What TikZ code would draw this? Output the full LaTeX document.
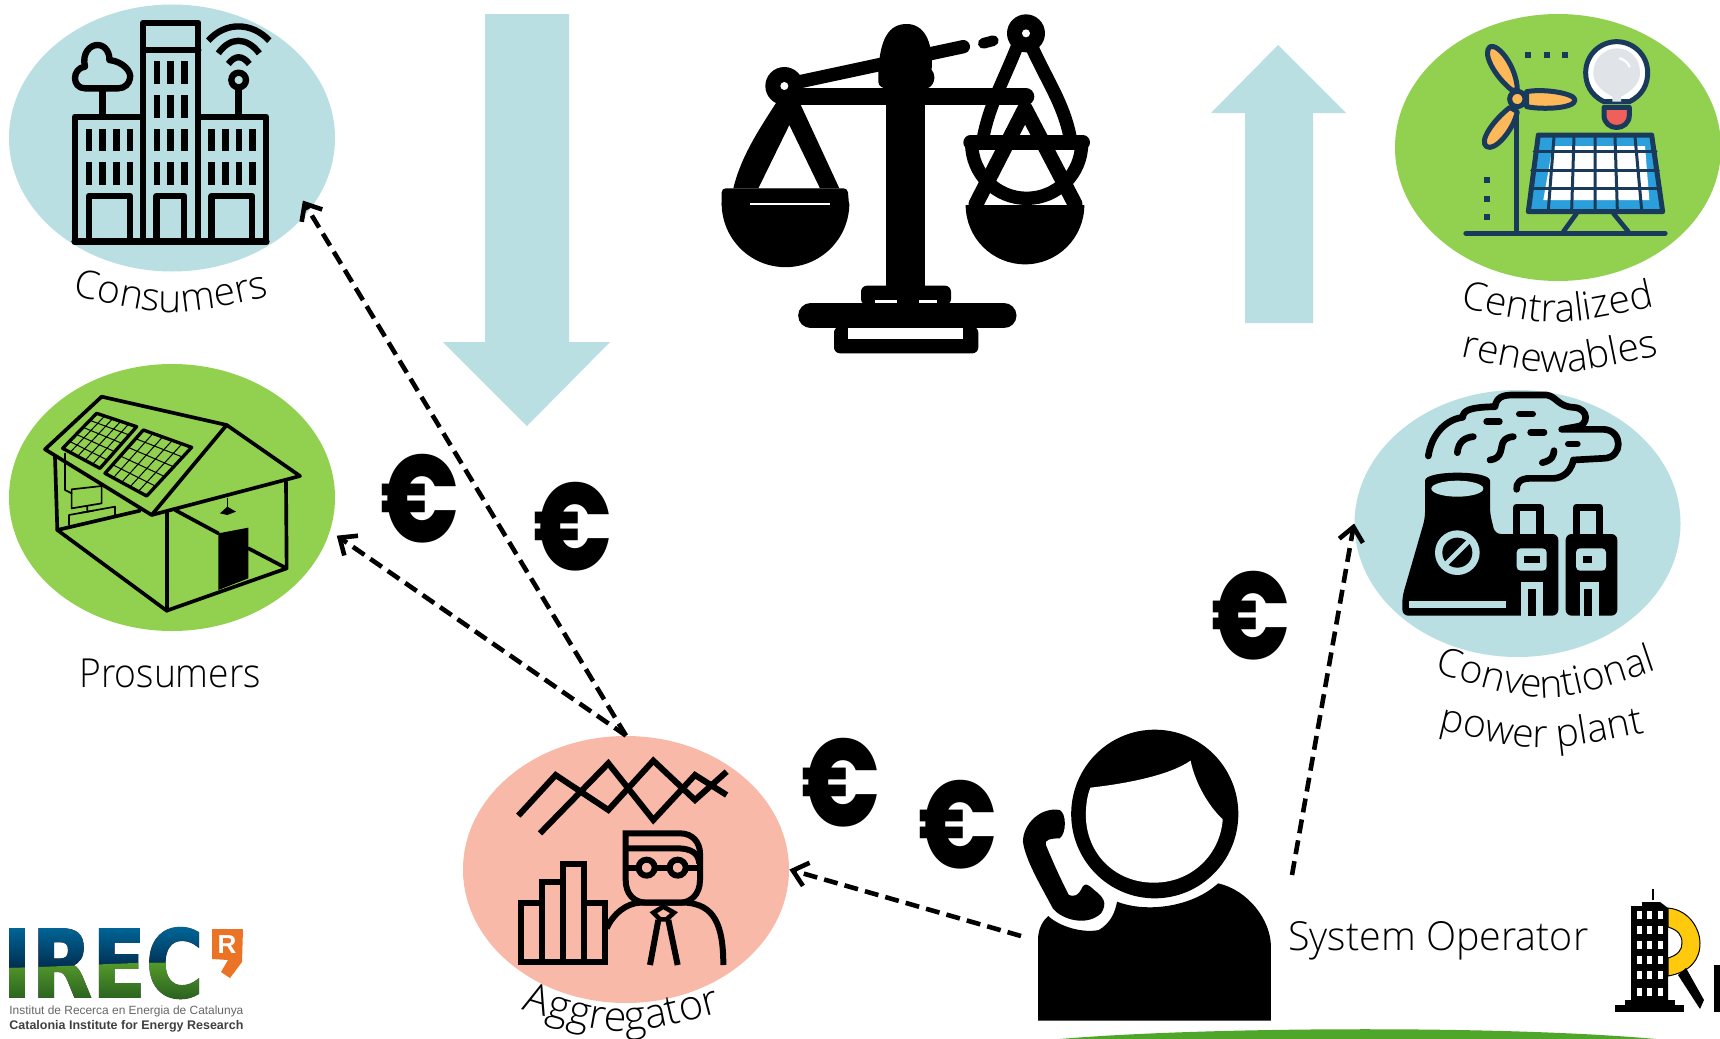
\documentclass[tikz,border=0pt]{standalone}
\usepackage{fontspec}
\usetikzlibrary{arrows.meta,shapes.geometric,decorations.text,calc}
\newfontfamily\lt{Open Sans Light}
\newfontfamily\eur{Poppins ExtraBold}
\newfontfamily\irecf[BoldFeatures={FakeBold=1.5}]{DejaVu Sans}
\newfontfamily\lsans{Liberation Sans}
\def\lbl{\lt\fontsize{20}{24}\selectfont}
\def\lblb{\lt\fontsize{19.5}{24}\selectfont}
\def\lblc{\lt\fontsize{20.7}{24}\selectfont}
\definecolor{lblue}{HTML}{B9DFE3}
\definecolor{lgreen}{HTML}{92D050}
\definecolor{lsalmon}{HTML}{F8B9A8}
\definecolor{navy}{HTML}{1A3A5C}
\definecolor{orangeb}{HTML}{FDB85A}
\definecolor{sky}{HTML}{2B9FDC}
\definecolor{bulbg}{HTML}{E0E3E8}
\definecolor{bulbr}{HTML}{F0605A}
\definecolor{ireco}{HTML}{EB7325}
\definecolor{barg}{HTML}{4EA72A}
\definecolor{yel}{HTML}{FFC90E}
\newcommand{\euro}{\scalebox{0.8}[1]{€}}
\tikzset{
 zm/.style 2 args={shift={(#1,#2)},scale=0.33333},
 lz/.style={line width=#1*0.16667pt},
 bubble/.style={ellipse,inner sep=0pt,minimum width=163pt,minimum height=133.5pt,fill=#1},
 money/.style={font=\eur\fontsize{62}{66}\selectfont,inner sep=0pt},
 link/.style={line width=2.3pt,dash pattern=on 7pt off 3.6pt,-{Straight Barb[length=7pt,width=12pt,line width=2.3pt]}},
 ico/.style={line join=round,line cap=round},
 curved/.style={decorate,decoration={text along path,text align=center,text={|\lblb|#1}}},
 curvedbig/.style={decorate,decoration={text along path,text align=center,text={|\lblc|#1}}}
}
\begin{document}
\begin{tikzpicture}[x=0.5pt,y=-0.5pt]
\useasboundingbox (0,0) rectangle (1720,1039);
\fill[white] (0,0) rectangle (1720,1039);
% bubbles
\node[bubble=lblue] (consumers) at (172,138) {};
\node[bubble=lgreen] (prosumers) at (172,497.5) {};
\node[bubble=lgreen] (renew) at (1558,147.5) {};
\node[bubble=lblue] (conv) at (1517.5,523.5) {};
\node[bubble=lsalmon] (aggr) at (626,869.5) {};
% flow arrows
\fill[lblue] (485,14)--(569,14)--(569,342)--(610,342)--(527,426)--(443,342)--(485,342)--cycle;
\fill[lblue] (1278,45)--(1346,113)--(1313,113)--(1313,323)--(1245,323)--(1245,113)--(1211,113)--cycle;
% consumers icon
\begin{scope}[zm={0}{0},ico,lz=19]
 \draw (430,68) rectangle (595,725);
 \draw (430,150)--(595,150);
 \draw (225,350) rectangle (430,725);
 \draw (595,350) rectangle (798,725);
 \draw[lz=22] (225,725)--(798,725);
 \foreach \yy in {183,285,386,487} \foreach \xx in {461,502,543} \fill (\xx,\yy) rectangle +(20,68);
 \foreach \yy in {386,487} \foreach \xx in {257,298,339,380,625,666,707,747} \fill (\xx,\yy) rectangle +(20,68);
 \draw (267,725)--(267,588)--(390,588)--(390,725);
 \draw (470,725)--(470,588)--(553,588)--(553,725);
 \draw (635,725)--(635,588)--(757,588)--(757,725);
 \draw (308,265)--(308,345);
 \draw (255,265) .. controls (215,265) and (215,205) .. (255,200) .. controls (245,160) and (270,135) .. (292,135) .. controls (320,135) and (330,165) .. (328,180) .. controls (370,185) and (395,215) .. (390,235) .. controls (388,250) and (375,265) .. (355,265) -- cycle;
 \draw (716,240) circle (22);
 \draw (716,265)--(716,345);
 \draw[line cap=butt] (625,122) .. controls (675,65) and (755,65) .. (808,122);
 \draw[line cap=butt] (655,160) .. controls (690,110) and (740,110) .. (778,160);
 \draw[line cap=butt] (685,192) .. controls (705,165) and (727,165) .. (748,192);
\end{scope}
% prosumers icon
\begin{scope}[zm={0}{360},ico,lz=11]
 \draw (135,268)--(305,110)--(680,195)--(455,465)--cycle;
 \draw (680,195)--(900,348)--(455,465);
 \draw (165,290)--(172,510)--(500,752)--(860,625)--(858,365);
 \draw (172,510)--(420,452);
 \draw (502,460)--(502,752);
 \draw (525,450)--(655,520);
 \fill (655,520)--(745,503)--(745,655)--(655,690)--cycle;
 \draw (745,565)--(860,625);
 \draw[lz=10] (290,160)--(410,200)--(300,325)--(188,265)--cycle;
 \draw[lz=10] (430,210)--(575,262)--(440,408)--(315,340)--cycle;
 \foreach \t in {0.2,0.4,0.6,0.8} {
  \draw[lz=3] ($(290,160)!\t!(410,200)$) -- ($(188,265)!\t!(300,325)$);
  \draw[lz=3] ($(290,160)!\t!(188,265)$) -- ($(410,200)!\t!(300,325)$);
  \draw[lz=3] ($(430,210)!\t!(575,262)$) -- ($(315,340)!\t!(440,408)$);
  \draw[lz=3] ($(430,210)!\t!(315,340)$) -- ($(575,262)!\t!(440,408)$);
 }
 \draw[lz=5] (195,280)--(195,390)--(215,400);
 \draw[lz=5] (215,388)--(305,378)--(305,430)--(215,445)--cycle;
 \draw[lz=5] (262,438)--(262,450) (245,458)--(280,452);
 \draw[lz=5] (207,495)--(207,465)--(345,440)--(345,468);
 \draw[lz=3] (682,415)--(682,445);
 \fill (660,460)--(682,440)--(708,455)--(682,465)--cycle;
\end{scope}
% scale
\begin{scope}[zm={700}{0},ico]
 \draw[lz=45] (975,325)--(828,612) (975,325)--(1125,612);
 \fill (797,615) arc[start angle=180,end angle=0,radius=178] -- cycle;
 \fill[white] (855,608) rectangle (1095,615);
 \fill[even odd rule] (240,290)--(300,310)--(418,565)--(100,565) .. controls (125,460) and (190,370) .. (240,290) -- cycle (268,375)--(175,565)--(360,565)--cycle;
 \fill[rounded corners=2pt] (65,625)--(65,565)--(443,565)--(448,625)--cycle;
 \fill (65,610) arc[start angle=180,end angle=0,radius=191.5] -- cycle;
 \draw[white,lz=8,line cap=butt] (150,612)--(390,612);
 \draw[lz=50] (260,290)--(978,290);
 \fill (558,250) rectangle (676,900);
 \draw[lz=40] (300,245)--(790,140);
 \draw[lz=32] (850,130)--(880,122);
 \fill (535,240) .. controls (535,110) and (570,72) .. (620,72) .. controls (670,72) and (700,120) .. (695,210) .. controls (712,230) and (700,262) .. (680,265) -- (555,265) .. controls (535,260) and (535,250) .. (535,240) -- cycle;
 \fill (253,258) circle (57);
 \fill[white] (253,258) circle (12);
 \draw[lz=38,line cap=butt] (955,130) .. controls (908,250) and (870,310) .. (850,410);
 \draw[lz=40,line cap=butt] (995,140) .. controls (1040,240) and (1090,310) .. (1110,410);
 \fill (978,100) circle (57);
 \fill[white] (978,100) circle (12);
 \draw[lz=44] (812,427)--(1148,427);
 \draw[lz=40,line cap=butt] (815,430) arc[start angle=180,end angle=0,radius=165];
 \fill[rounded corners=3pt] (483,915)--(483,857)--(753,857)--(753,915)--cycle;
 \draw[lz=75] (332,947)--(912,947);
 \fill[white] (525,900) rectangle (590,908);
 \fill[white] (657,900) rectangle (712,908);
 \fill[rounded corners=3pt] (402,980)--(835,980)--(835,1060)--(402,1060)--cycle;
 \fill[white] (443,985) rectangle (790,1018);
\end{scope}
% centralized renewables icon
\begin{scope}[zm={1380}{0},ico,draw=navy,lz=15]
 \draw[lz=16] (258,700)--(855,700);
 \draw (410,340)--(410,700);
 \draw[fill=orangeb] (395,270) .. controls (345,230) and (305,160) .. (330,140) .. controls (355,130) and (410,200) .. (412,270) -- cycle;
 \draw[fill=orangeb] (440,275) .. controls (490,265) and (585,280) .. (585,300) .. controls (585,325) and (490,330) .. (440,320) -- cycle;
 \draw[fill=orangeb] (390,322) .. controls (340,360) and (295,425) .. (320,440) .. controls (345,455) and (400,390) .. (412,335) -- cycle;
 \draw[fill=orangeb] (412,297) circle (23);
 \foreach \xx in {443,500,556} \fill[navy] (\xx-9,156) rectangle +(18,18);
 \foreach \yy in {540,596,652} \fill[navy] (311,\yy-9) rectangle +(18,18);
 % lamp
 \draw[fill=white] (672,305) .. controls (630,285) and (617,250) .. (617,218) .. controls (617,165) and (660,125) .. (710,125) .. controls (760,125) and (803,165) .. (803,218) .. controls (803,250) and (790,285) .. (748,305) -- cycle;
 \fill[bulbg] (697,305) -- (697,290) .. controls (650,265) and (640,240) .. (640,218) .. controls (640,175) and (675,145) .. (710,145) .. controls (750,145) and (780,175) .. (780,218) .. controls (780,240) and (770,265) .. (723,290) -- (723,305) -- cycle;
 \draw[lz=7,white] (720,175) .. controls (735,180) and (745,190) .. (748,200);
 \draw[fill=bulbr] (672,322)--(748,322)--(748,345) .. controls (748,395) and (672,395) .. (672,345) -- cycle;
 \draw[fill=sky] (475,405)--(815,405)--(848,635)--(445,635)--cycle;
 \fill[white] (518,438)--(795,438)--(808,600)--(490,600)--cycle;
 \draw[lz=9] (462,453)--(828,453) (455,510)--(835,510) (450,565)--(842,565);
 \draw[lz=9] (522,410)--(505,630) (582,410)--(575,630) (645,410)--(645,630) (705,410)--(712,630) (765,410)--(785,630);
 \draw[lz=14] (590,640)--(550,695) (700,640)--(745,695);
\end{scope}
% conventional plant icon
\begin{scope}[zm={1340}{380},ico]
 \fill[rounded corners=3pt] (255,320) -- (255,415) -- (187,650) -- (187,707) -- (655,707) -- (655,462) -- (465,462) -- (450,400) -- (450,320) .. controls (450,270) and (255,270) .. (255,320) -- cycle;
 \fill[rounded corners=3pt] (677,462) rectangle (832,707);
 \fill[lblue] (352,326) ellipse [x radius=78,y radius=24];
 \fill[lblue] (352,518) circle (67);
 \fill (352,518) circle (45);
 \draw[lblue,lz=14,line cap=butt] (315,555)--(390,480);
 \fill[lblue] (207,663) rectangle (497,685);
 \draw[lz=22,line cap=butt] (530,470)--(530,382)--(600,382)--(600,470);
 \draw[lz=22,line cap=butt] (710,470)--(710,382)--(778,382)--(778,470);
 \fill[lblue,rounded corners=2pt] (530,505) rectangle (620,572);
 \fill (553,527) rectangle (600,550);
 \fill[lblue,rounded corners=2pt] (708,505) rectangle (798,572);
 \fill (730,527) rectangle (755,550);
 \fill[lblue] (543,707)--(543,607)--(610,607)--(610,707)--cycle;
 \fill (565,628) rectangle (588,707);
 \fill[lblue] (720,707)--(720,607)--(778,607)--(778,707)--cycle;
 \fill (733,628) rectangle (755,707);
 \draw[lz=20] (265,228) .. controls (275,160) and (320,118) .. (368,112) .. controls (370,90) and (390,82) .. (465,80) .. controls (470,50) and (490,45) .. (520,45) -- (620,45) .. controls (650,50) and (655,80) .. (700,82) .. controls (750,85) and (745,138) .. (710,140) -- (665,148) -- (790,148) .. controls (850,150) and (850,235) .. (790,235) -- (700,240) .. controls (690,290) and (650,295) .. (640,295) -- (570,295) .. controls (540,295) and (528,310) .. (530,328);
 \draw[lz=20] (440,125)--(478,125) (538,102)--(578,102) (572,157)--(612,157) (685,192)--(712,192);
 \draw[lz=20] (352,218) .. controls (355,185) and (375,172) .. (400,170);
 \draw[lz=20] (450,240) .. controls (490,235) and (480,200) .. (490,185) .. controls (495,175) and (510,170) .. (520,170);
 \draw[lz=20] (607,248) .. controls (640,240) and (640,225) .. (642,212);
\end{scope}
% aggregator icon
\begin{scope}[zm={450}{720},lz=18,line join=miter]
 \draw (205,287)--(317,165)--(475,270)--(610,122)--(735,240)--(830,155);
 \draw (270,340)--(475,130)--(610,300)--(735,165)--(830,225);
 \draw (213,725)--(213,548)--(277,548)--(277,487)--(340,487)--(340,433)--(403,433)--(403,548)--(465,548)--(465,725)--cycle;
 \draw (277,548)--(277,725) (340,487)--(340,725) (403,548)--(403,725);
 \draw (527,340)--(690,340) .. controls (730,340) and (750,370) .. (750,400) -- (750,480) .. controls (750,525) and (720,548) .. (690,548) -- (590,548) .. controls (550,548) and (527,520) .. (527,480) -- cycle;
 \draw (527,385)--(680,385) .. controls (725,385) and (745,400) .. (748,430);
 \draw (590,443) circle (24) (683,443) circle (24);
 \draw (530,443)--(566,443) (614,443)--(659,443) (707,443)--(750,443);
 \draw (470,625) .. controls (490,580) and (530,550) .. (570,548) -- (710,548) .. controls (790,555) and (820,610) .. (820,735);
 \draw[lz=14] (610,578)--(640,560)--(672,578)--(650,598)--(630,598)--cycle;
 \draw (625,600)--(600,735) (655,600)--(683,735);
\end{scope}
% operator
\begin{scope}[shift={(1000,720)},xscale=0.4592,yscale=0.33333]
 \fill (83,902) -- (83,650) .. controls (85,620) and (95,600) .. (105,588) .. controls (130,620) and (180,640) .. (215,630) .. controls (240,610) and (250,580) .. (255,545) .. controls (320,580) and (420,560) .. (475,490) .. controls (540,510) and (590,600) .. (590,680) -- (590,902) -- cycle;
 \fill (337,282) ellipse [x radius=182,y radius=253];
 \fill[white] (197,203) .. controls (280,190) and (370,165) .. (415,122) .. controls (425,190) and (455,260) .. (485,298) .. controls (480,400) and (420,488) .. (335,488) .. controls (250,488) and (187,400) .. (187,285) .. controls (187,255) and (190,225) .. (197,203) -- cycle;
 \fill (130,270) .. controls (90,260) and (50,310) .. (50,365) .. controls (55,420) and (90,500) .. (115,565) .. controls (135,600) and (190,620) .. (220,580) .. controls (235,550) and (225,530) .. (205,510) .. controls (190,490) and (185,490) .. (180,500) .. controls (170,530) and (160,530) .. (150,525) .. controls (125,460) and (100,375) .. (100,375) .. controls (95,360) and (110,355) .. (130,355) .. controls (145,340) and (145,280) .. (130,270) -- cycle;
\end{scope}
% R logo
\fill (1652,889) rectangle (1653.5,900);
\fill (1631,1002)--(1631,906)--(1642,906)--(1642,902)--(1660,902)--(1668,908)--(1668,1002)--cycle;
\fill (1625,1005) rectangle (1675,1000);
\fill (1615,1012) rectangle (1684,1005);
\foreach \yy in {915,930,945,960,975,992} \foreach \xx in {1639,1649,1660} \fill[white] (\xx-2,\yy-4) rectangle +(4.5,8);
\draw[line width=0.5pt,fill=yel] (1668,908) .. controls (1690,910) and (1700,930) .. (1700,943) .. controls (1700,960) and (1690,972) .. (1668,976) -- (1668,958) .. controls (1678,955) and (1682,950) .. (1682,943) .. controls (1682,935) and (1678,930) .. (1668,927) -- cycle;
\fill (1678,975)--(1686,968)--(1704,1000)--(1700,1009)--cycle;
\fill (1714,965) rectangle (1720,1012);
% bottom band
\fill[barg] (1060,1039) .. controls (1200,1027) and (1500,1025) .. (1656,1039) -- cycle;
% IREC logo
\node[inner sep=0pt,anchor=south west] (irectext) at (2,999) {\scalebox{0.836}[1]{\irecf\bfseries\fontsize{47}{47}\selectfont IREC}};
\shade[blend mode=lighten,top color={rgb,255:red,0;green,105;blue,155},bottom color={rgb,255:red,0;green,45;blue,80}] (0,925) -- (212,925) -- (212,966) .. controls (170,958) and (100,966) .. (0,968) -- cycle;
\shade[blend mode=lighten,top color={rgb,255:red,90;green,160;blue,45},bottom color={rgb,255:red,40;green,95;blue,30}] (0,968) .. controls (100,966) and (170,958) .. (212,966) -- (212,1001) -- (0,1001) -- cycle;
\fill[ireco] (212,929)--(243,929)--(242,962)--(230,978)--(221,972)--(228,960)--(212,959)--cycle;
\node[inner sep=0pt,text=white,font=\lsans\bfseries\fontsize{13}{13}\selectfont] (irecr) at (227,945) {R};
\node[inner sep=0pt,anchor=west,text=black!60] (irecl1) at (9,1011) {\resizebox{117pt}{!}{\lsans Institut de Recerca en Energia de Catalunya}};
\node[inner sep=0pt,anchor=west,text=black!75] (irecl2) at (9,1026) {\resizebox{117pt}{!}{\lsans\bfseries Catalonia Institute for Energy Research}};
% euros
\node[money] (e1) at (420,499) {\euro};
\node[money] (e2) at (573,527) {\euro};
\node[money] (e3) at (1251,616) {\euro};
\node[money] (e4) at (841,783) {\euro};
\node[money] (e5) at (958,825) {\euro};
% connectors
\coordinate (opleft) at (1021,936);
\coordinate (opright) at (1292,875);
\draw[link,shorten >=-6pt] (aggr.north) -- (consumers.-28);
\draw[link,shorten >=4pt] (aggr.north) -- (prosumers.-12.5);
\draw[link] (opleft) -- (aggr.east);
\draw[link] (opright) -- (conv.west);
% labels
\node[inner sep=0pt,font=\lbl,anchor=base west] (lprosumers) at (79,687) {\scalebox{0.93}[1]{Prosumers}};
\node[inner sep=0pt,font=\lbl,anchor=base west] (lso) at (1288,950) {\scalebox{0.985}[1]{System Operator}};
\path[curved=Consumers] (70,295) .. controls (172,318) .. (272,296);
\path[curved=Centralized] (1455,306) .. controls (1557,328) .. (1660,305);
\path[curved=renewables] (1458,356) .. controls (1555,378) .. (1662,355);
\path[curved=Conventional] (1430,671) .. controls (1547,707) .. (1662,668);
\path[curved={power plant}] (1432,728) .. controls (1542,754) .. (1652,731);
\path[curvedbig=Aggregator] (518,1008) .. controls (620,1039) .. (725,1011);
\end{tikzpicture}
\end{document}
